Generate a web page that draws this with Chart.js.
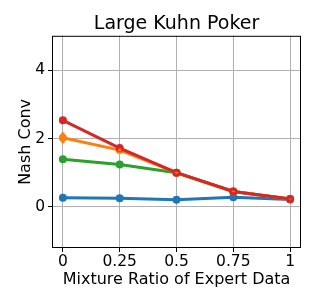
<!DOCTYPE html>
<html>
<head>
<meta charset="utf-8">
<script src="https://cdn.jsdelivr.net/npm/chart.js@4"></script>
<style>
  html, body { margin: 0; padding: 0; background: #fff; }
  #wrap { width: 319px; height: 306px; }
</style>
</head>
<body>
<div id="wrap"><canvas id="chart" width="319" height="306"></canvas></div>
<script>
const ratios = [0, 0.25, 0.5, 0.75, 1];
const xTickLabels = ["0", "0.25", "0.5", "0.75", "1"];
const yTicks = [0, 2, 4];

const blueValues = [0.27, 0.25, 0.21, 0.28, 0.22];
const greenValues = [1.39, 1.24, 1.0, 0.45, 0.23];
const orangeValues = [2.02, 1.66, 1.0, 0.45, 0.23];
const orangeErrors = [0.16, 0.04, 0.02, 0.02, 0.01];
const redValues = [2.53, 1.72, 1.0, 0.45, 0.23];

const font = "'DejaVu Sans', sans-serif";

function toPoints(values) {
  return values.map((v, i) => ({ x: ratios[i], y: v }));
}

function lineSet(values, color, order) {
  return {
    data: toPoints(values),
    borderColor: color,
    backgroundColor: color,
    borderWidth: 3,
    pointRadius: 4,
    pointHoverRadius: 4,
    pointBorderWidth: 0,
    order: order,
  };
}

// vertical error bars for the orange series
const errorBars = {
  id: "errorBars",
  afterDatasetsDraw(chart) {
    const ctx = chart.ctx;
    const xs = chart.scales.x;
    const ys = chart.scales.y;
    ctx.save();
    ctx.strokeStyle = "#ff7f0e";
    ctx.lineWidth = 3;
    orangeErrors.forEach((e, i) => {
      const px = xs.getPixelForValue(ratios[i]);
      ctx.beginPath();
      ctx.moveTo(px, ys.getPixelForValue(orangeValues[i] - e));
      ctx.lineTo(px, ys.getPixelForValue(orangeValues[i] + e));
      ctx.stroke();
    });
    ctx.restore();
  },
};

const frame = {
  id: "frame",
  afterDraw(chart) {
    const a = chart.chartArea;
    const ctx = chart.ctx;
    ctx.save();
    ctx.strokeStyle = "#000";
    ctx.lineWidth = 1;
    ctx.strokeRect(a.left + 0.5, a.top + 0.5, a.right - a.left - 1, a.bottom - a.top - 1);
    ctx.restore();
  },
};

new Chart(document.getElementById("chart"), {
  type: "line",
  data: {
    datasets: [
      lineSet(redValues, "#d62728", 1),
      lineSet(orangeValues, "#ff7f0e", 2),
      lineSet(greenValues, "#2ca02c", 3),
      lineSet(blueValues, "#1f77b4", 4),
    ],
  },
  options: {
    responsive: false,
    animation: false,
    layout: { padding: { top: 0, right: 18, left: 0, bottom: 0 } },
    plugins: {
      legend: { display: false },
      tooltip: { enabled: false },
      title: {
        display: true,
        fullSize: false,
        text: "Large Kuhn Poker",
        color: "#000",
        font: { family: font, size: 19, weight: "normal" },
        padding: { top: 13, bottom: 0 },
      },
    },
    scales: {
      x: {
        type: "linear",
        min: -0.048,
        max: 1.048,
        afterBuildTicks: (scale) => {
          scale.ticks = ratios.map((v) => ({ value: v }));
        },
        afterFit: (scale) => {
          scale.height = 58;
        },
        ticks: {
          color: "#000",
          font: { family: font, size: 15.5 },
          padding: 1,
          maxRotation: 0,
          callback: (v) => xTickLabels[ratios.indexOf(v)],
        },
        grid: { color: "#b0b0b0", lineWidth: 1, tickLength: 4, tickColor: "#000" },
        border: { display: false },
        title: {
          display: true,
          text: "Mixture Ratio of Expert Data",
          color: "#000",
          font: { family: font, size: 16 },
          padding: { top: 0, bottom: 17 },
        },
      },
      y: {
        type: "linear",
        min: -1.2,
        max: 5,
        afterBuildTicks: (scale) => {
          scale.ticks = yTicks.map((v) => ({ value: v }));
        },
        afterFit: (scale) => {
          scale.width = 52;
        },
        ticks: {
          color: "#000",
          font: { family: font, size: 15.5 },
          padding: 3,
        },
        grid: { color: "#b0b0b0", lineWidth: 1, tickLength: 4, tickColor: "#000" },
        border: { display: false },
        title: {
          display: true,
          text: "Nash Conv",
          color: "#000",
          font: { family: font, size: 16 },
          padding: { top: 16, bottom: 0 },
        },
      },
    },
  },
  plugins: [errorBars, frame],
});
</script>
</body>
</html>
